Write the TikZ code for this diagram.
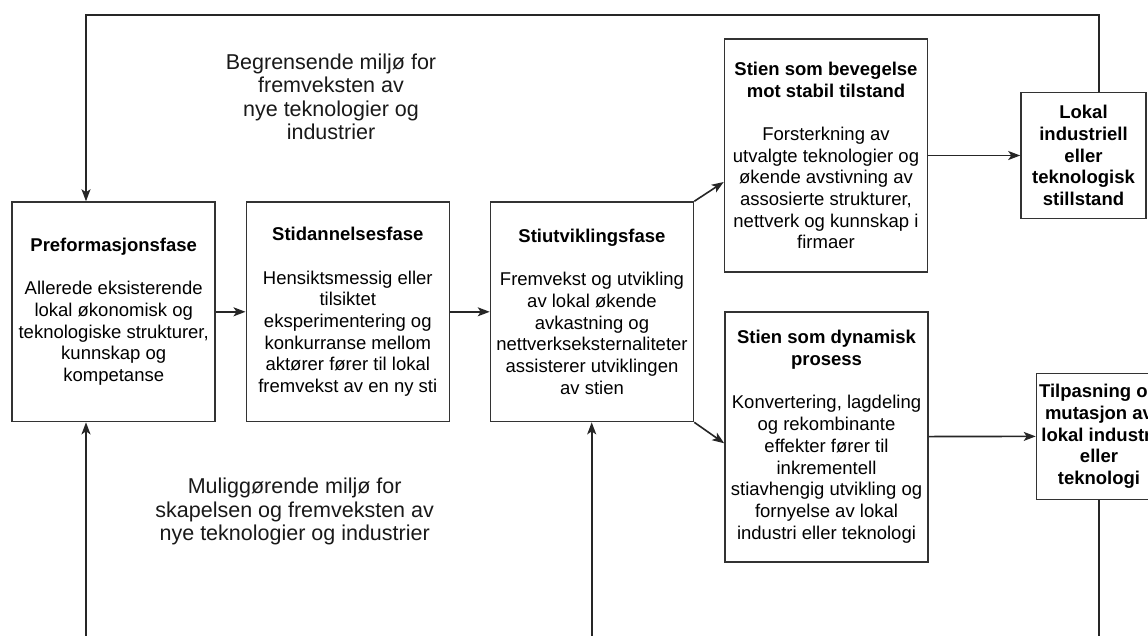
\documentclass[tikz,border=0pt]{standalone}
\usepackage{fontspec}
\setmainfont{Liberation Sans}
\usetikzlibrary{arrows.meta}

\newcommand{\boksfont}{\fontsize{18.5}{21.7}\selectfont}
\newcommand{\tekstfont}{\fontsize{21.5}{23.5}\selectfont}

\begin{document}
\begin{tikzpicture}[x=1pt, y=-1pt, >={Stealth[length=12pt, width=9pt, inset=3pt]},
    fase/.style={draw=black!80, line width=1.6pt, align=center, inner sep=2pt, font=\boksfont, minimum width=203pt},
    utfall/.style={draw=black!80, line width=1.6pt, align=center, inner sep=2pt, font=\boksfont\bfseries, minimum width=125pt, minimum height=126pt},
    fritekst/.style={align=center, font=\tekstfont, text=black!90},
    pil/.style={draw=black!85, line width=1.6pt, ->},
    linje/.style={draw=black!85, line width=1.6pt}]
    \useasboundingbox (0,0) rectangle (1148,635);
    \fill[white] (0,0) rectangle (1148,635);
    \clip (0,0) rectangle (1148,635);

    % Fasene
    \node[fase, minimum height=219.5pt] (pre) at (113.7,311.8)
        {\textbf{Preformasjonsfase}\\[21.7pt] Allerede eksisterende\\ lokal økonomisk og\\ teknologiske strukturer,\\ kunnskap og\\ kompetanse};
    \node[fase, minimum height=219.5pt] (stid) at (347.8,311.8)
        {\textbf{Stidannelsesfase}\\[21.7pt] Hensiktsmessig eller\\ tilsiktet\\ eksperimentering og\\ konkurranse mellom\\ aktører fører til lokal\\ fremvekst av en ny sti};
    \node[fase, minimum height=219.5pt] (stiu) at (592,311.8)
        {\textbf{Stiutviklingsfase}\\[21.7pt] Fremvekst og utvikling\\ av lokal økende\\ avkastning og\\ nettverkseksternaliteter\\ assisterer utviklingen\\ av stien};

    % Stiene
    \node[fase, minimum height=233pt] (stab) at (826,155.5)
        {\textbf{Stien som bevegelse}\\ \textbf{mot stabil tilstand}\\[21.7pt] Forsterkning av\\ utvalgte teknologier og\\ økende avstivning av\\ assosierte strukturer,\\ nettverk og kunnskap i\\ firmaer};
    \node[fase, minimum height=250pt] (dyn) at (826.5,436.7)
        {\textbf{Stien som dynamisk}\\ \textbf{prosess}\\[21.7pt] Konvertering, lagdeling\\ og rekombinante\\ effekter fører til\\ inkrementell\\ stiavhengig utvikling og\\ fornyelse av lokal\\ industri eller teknologi};

    % Utfall
    \node[utfall] (still) at (1083.5,155.5) {Lokal\\ industriell\\ eller\\ teknologisk\\ stillstand};
    \node[utfall] (tilp) at (1099,436.3) {Tilpasning og\\ mutasjon av\\ lokal industri\\ eller\\ teknologi};

    % Omgivelser
    \node[fritekst] (begr) at (331,96.7) {Begrensende miljø for\\ fremveksten av\\ nye teknologier og\\ industrier};
    \node[fritekst] (mulig) at (294.7,511.7) {Muliggørende miljø for\\ skapelsen og fremveksten av\\ nye teknologier og industrier};

    % Piler
    \draw[pil] (pre) -- (stid);
    \draw[pil] (stid) -- (stiu);
    \draw[pil] (stiu.north east) -- ([yshift=-26.5pt]stab.west);
    \draw[pil] (stiu.south east) -- ([yshift=-6.6pt]dyn.west);
    \draw[pil] (stab) -- (still);
    \draw[pil] (dyn) -- (tilp);

    % Tilbakekobling
    \coordinate (toppV) at (86,15);
    \coordinate (toppH) at (1099,15);
    \draw[pil] (toppH |- still.north) -- (toppH) -- (toppV) -- (toppV |- pre.north);
    \coordinate (bunnV) at (86,640);
    \coordinate (bunnM) at (591.7,640);
    \coordinate (bunnH) at (1099,640);
    \draw[pil] (bunnV) -- (bunnV |- pre.south);
    \draw[pil] (bunnM) -- (bunnM |- stiu.south);
    \draw[linje] (tilp.south) -- (bunnH);
\end{tikzpicture}
\end{document}
